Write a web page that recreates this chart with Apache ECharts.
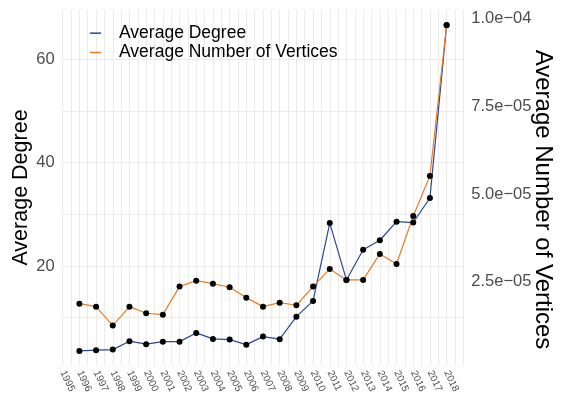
<!DOCTYPE html>
<html>
<head>
<meta charset="utf-8">
<script src="https://cdn.jsdelivr.net/npm/echarts@6/dist/echarts.min.js"></script>
<style>
  html, body { margin: 0; padding: 0; background: #fff; }
  #chart { width: 561px; height: 403px; }
</style>
</head>
<body>
<div id="chart"></div>
<script>
// ---- data ----
const xTickLabels = [1995, 1996, 1997, 1998, 1999, 2000, 2001, 2002, 2003, 2004, 2005, 2006,
  2007, 2008, 2009, 2010, 2011, 2012, 2013, 2014, 2015, 2016, 2017, 2018];
const years = [1996, 1997, 1998, 1999, 2000, 2001, 2002, 2003, 2004, 2005, 2006, 2007,
  2008, 2009, 2010, 2011, 2012, 2013, 2014, 2015, 2016, 2017, 2018];
const avgDegree = [3.57, 3.71, 3.83, 5.45, 4.87, 5.37, 5.37, 7.05, 5.89, 5.76, 4.79, 6.34,
  5.84, 10.2, 13.24, 28.3, 17.3, 23.15, 24.97, 28.56, 28.4, 33.14, 66.57];
const avgVertices = [1.876e-5, 1.790e-5, 1.249e-5, 1.790e-5, 1.602e-5, 1.562e-5, 2.361e-5,
  2.532e-5, 2.446e-5, 2.343e-5, 2.047e-5, 1.790e-5, 1.904e-5, 1.830e-5, 2.361e-5, 2.865e-5,
  2.552e-5, 2.552e-5, 3.293e-5, 3.008e-5, 4.376e-5, 5.517e-5, 9.822e-5];
const leftTickLabels = [20, 40, 60];
const leftGridValues = [10, 20, 30, 40, 50, 60];
const rightTickLabels = [2.5e-5, 5.0e-5, 7.5e-5, 1.0e-4];
const seriesNames = ['Average Degree', 'Average Number of Vertices'];

// ---- scales ----
const leftMin = 0.85, leftMax = 69.5;
const secScale = 1.475e-6; // secondary axis = primary * secScale
const xMin = 1995, xMax = 2019;
const xGridValues = [];
for (let v = xMin; v <= xMax; v += 0.5) xGridValues.push(v);

const FONT = "'Liberation Sans', Arial, Helvetica, sans-serif";
const BLUE = '#2b4796';
const ORANGE = '#e67e22';

function sciFmt(v) {
  const s = v.toExponential(1);
  const parts = s.split('e');
  const exp = parseInt(parts[1], 10);
  const sign = exp < 0 ? '\u2212' : '+';
  const e = String(Math.abs(exp)).padStart(2, '0');
  return parts[0] + 'e' + sign + e;
}

const chart = echarts.init(document.getElementById('chart'), null, { renderer: 'canvas' });
const degPairs = years.map((y, i) => [y, avgDegree[i]]);
const vertPairs = years.map((y, i) => [y, avgVertices[i]]);

chart.setOption({
  animation: false,
  backgroundColor: '#fff',
  textStyle: { fontFamily: FONT },
  grid: { left: 62.7, right: 97.7, top: 10, bottom: 38, containLabel: false, outerBoundsMode: 'none' },
  legend: {
    data: seriesNames,
    orient: 'vertical',
    left: 90, top: 23.5,
    padding: 0,
    itemGap: 0,
    icon: 'rect',
    itemWidth: 11,
    itemHeight: 1.5,
    textStyle: { fontFamily: FONT, fontSize: 17.5, color: '#000', lineHeight: 19.3, padding: [0, 0, 0, 13] }
  },
  xAxis: {
    type: 'value', min: xMin, max: xMax,
    axisLine: { show: false },
    axisTick: { show: false, customValues: xGridValues },
    splitLine: { show: true, lineStyle: { color: '#ebebeb', width: 1 } },
    axisLabel: {
      customValues: xTickLabels,
      rotate: -65,
      fontSize: 10,
      color: '#4d4d4d',
      fontFamily: FONT,
      margin: 6,
      formatter: v => String(v)
    }
  },
  yAxis: [
    {
      type: 'value', min: leftMin, max: leftMax, position: 'left',
      axisLine: { show: false },
      axisTick: { show: false, customValues: leftGridValues },
      splitLine: { show: true, lineStyle: { color: '#ebebeb', width: 1 } },
      axisLabel: { customValues: leftTickLabels, fontSize: 16.5, color: '#4d4d4d', fontFamily: FONT, margin: 8 }
    },
    {
      type: 'value', min: leftMin * secScale, max: leftMax * secScale, position: 'right',
      axisLine: { show: false },
      axisTick: { show: false, customValues: rightTickLabels },
      splitLine: { show: false },
      axisLabel: { customValues: rightTickLabels, fontSize: 16.5, color: '#4d4d4d', fontFamily: FONT, margin: 8,
        formatter: v => sciFmt(v) }
    }
  ],
  series: [
    { name: seriesNames[0], type: 'line', data: degPairs, yAxisIndex: 0, showSymbol: false,
      color: BLUE, lineStyle: { color: BLUE, width: 1.2 }, z: 2 },
    { name: seriesNames[1], type: 'line', data: vertPairs, yAxisIndex: 1, showSymbol: false,
      color: ORANGE, lineStyle: { color: ORANGE, width: 1.2 }, z: 2 },
    { name: 'pts1', type: 'scatter', data: degPairs, yAxisIndex: 0, symbolSize: 6,
      itemStyle: { color: '#000', opacity: 1 }, z: 4 },
    { name: 'pts2', type: 'scatter', data: vertPairs, yAxisIndex: 1, symbolSize: 6,
      itemStyle: { color: '#000', opacity: 1 }, z: 4 }
  ],
  graphic: [
    { type: 'text', x: 21, y: 187.5, rotation: Math.PI / 2,
      style: { text: 'Average Degree', fontFamily: FONT, fontSize: 21.5, fill: '#000',
        textAlign: 'center', textVerticalAlign: 'middle' } },
    { type: 'text', x: 543, y: 199.5, rotation: -Math.PI / 2,
      style: { text: 'Average Number of Vertices', fontFamily: FONT, fontSize: 24, fill: '#000',
        textAlign: 'center', textVerticalAlign: 'middle' } }
  ]
});
</script>
</body>
</html>
